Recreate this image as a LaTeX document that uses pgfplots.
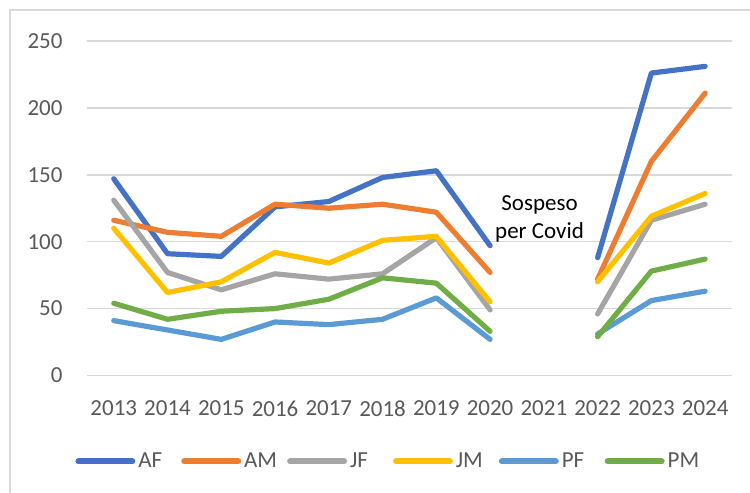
\documentclass[border=0pt]{standalone}
\usepackage{pgfplots}
\pgfplotsset{compat=1.18}
\usepackage{pgfplotstable}
\usepackage{fontspec}
\setmainfont{Carlito}
\definecolor{cAF}{HTML}{4472C4}
\definecolor{cAM}{HTML}{ED7D31}
\definecolor{cJF}{HTML}{A5A5A5}
\definecolor{cJM}{HTML}{FFC000}
\definecolor{cPF}{HTML}{5B9BD5}
\definecolor{cPM}{HTML}{70AD47}
\definecolor{gridc}{HTML}{D9D9D9}
\definecolor{lbl}{HTML}{595959}
\pgfplotstableread{
x AF AM JF JM PF PM
0 147 116 131 110 41 54
1 91 107 77 62 34 42
2 89 104 64 70 27 48
3 126 128 76 92 40 50
4 130 125 72 84 38 57
5 148 128 76 101 42 73
6 153 122 103 104 58 69
7 97 77 49 55 27 33
8 nan nan nan nan nan nan
9 88 72 46 70 31 29
10 226 160 116 119 56 78
11 231 211 128 136 63 87
}\datatable
\newcommand{\fs}{\fontsize{11.5}{13.8}\selectfont}
\begin{document}
\begin{tikzpicture}
\useasboundingbox (-43.5pt,-58.5pt) rectangle (332pt,188pt);
\draw[gridc, line width=0.75pt] (-38.5pt,-60pt) -- (-38.5pt,183pt) -- (335pt,183pt);
\begin{axis}[
  at={(0,0)}, anchor=south west,
  scale only axis,
  width=323pt, height=167.5pt,
  xmin=-0.5, xmax=11.5, ymin=0, ymax=250,
  xtick={0,...,11},
  xticklabels={2013,2014,2015,2016,2017,2018,2019,2020,2021,2022,2023,2024},
  ytick={0,50,100,150,200,250},
  xmajorgrids=false,
  ymajorgrids=true,
  major grid style={draw=gridc, line width=0.75pt},
  axis line style={draw=none},
  major tick length=0pt,
  tick style={draw=none},
  /pgf/number format/assume math mode=true,
  tick label style={font=\fs, text=lbl},
  xticklabel style={yshift=-9pt},
  yticklabel style={xshift=-8.7pt},
  unbounded coords=jump,
  every axis plot/.append style={line width=2.6pt, line cap=round, line join=round, mark=none},
  legend columns=6,
  legend style={draw=none, at={(axis description cs:0.4745,0)}, anchor=center, yshift=-43pt,
    font=\fs, text=lbl, column sep=0pt,
    nodes={inner xsep=1.5pt, inner ysep=0pt, text width=20pt, align=left}},
  legend image code/.code={\draw[#1, line width=3pt, line cap=round] (0pt,0pt) -- (27pt,0pt);},
  clip=false,
]
\addplot[cAF] table[x=x,y=AF] {\datatable};
\addlegendentry{AF}
\addplot[cAM] table[x=x,y=AM] {\datatable};
\addlegendentry{AM}
\addplot[cJF] table[x=x,y=JF] {\datatable};
\addlegendentry{JF}
\addplot[cJM] table[x=x,y=JM] {\datatable};
\addlegendentry{JM}
\addplot[cPF] table[x=x,y=PF] {\datatable};
\addlegendentry{PF}
\addplot[cPM] table[x=x,y=PM] {\datatable};
\addlegendentry{PM}
\node[font=\fs, align=center, text=black] at (axis cs:7.92,117) {Sospeso\\per Covid};
\end{axis}
\end{tikzpicture}
\end{document}
